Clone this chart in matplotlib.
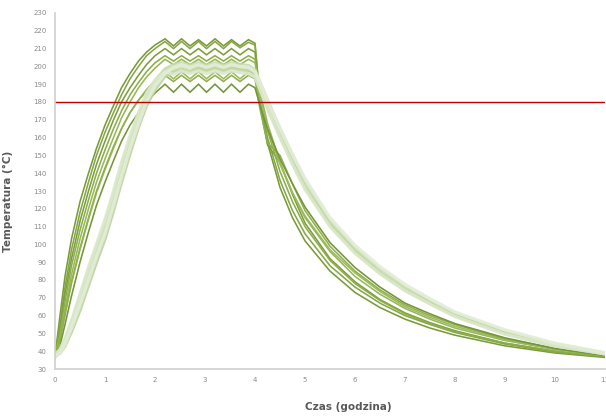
import matplotlib
matplotlib.use("Agg")
import matplotlib.pyplot as plt

# shared time grid (hours)
hours = [0, 0.1, 0.2, 0.33, 0.5, 0.67, 0.83, 1.0, 1.17, 1.33, 1.5, 1.67, 1.83, 2.0, 2.2,
         2.37, 2.53, 2.7, 2.87, 3.03, 3.2, 3.37, 3.53, 3.7, 3.87, 4.0,
         4.1, 4.25, 4.5, 4.75, 5.0, 5.5, 6.0, 6.5, 7.0, 7.5, 8.0, 9.0, 10.0, 11.0]

# zigzag runs (dark / medium green)
run_1 = [37, 60, 82, 103, 124, 140, 154, 167, 178, 188, 196, 203, 208, 212, 215.5,
         211.5, 215.5, 211.5, 215, 211.5, 215.5, 211.5, 215, 211.5, 215, 213,
         180, 157, 132, 115, 102, 85, 73, 64.5, 58, 53, 49, 43, 39, 36.5]
run_2 = [38, 55, 76, 97, 118, 135, 150, 163, 174, 184, 193, 200, 206, 210, 214,
         210, 214, 210, 214, 210, 214, 210, 214, 210.5, 213.5, 212,
         182, 160, 136, 119, 106, 88, 76, 67, 60, 55, 50.5, 44, 39.5, 37]
run_3 = [36, 52, 72, 92, 113, 130, 145, 158, 170, 180, 188, 195, 201, 206, 210,
         206.5, 210, 206.5, 210, 206.5, 210, 206.5, 210, 206.5, 210, 208,
         178, 156, 146, 128, 112, 92, 79, 69, 61.5, 56, 51.5, 44.5, 40, 37]
run_4 = [37, 50, 68, 88, 108, 125, 140, 153, 165, 175, 184, 191, 197, 202, 206,
         203, 206, 203, 206, 203, 206, 203, 206, 203, 206, 204,
         184, 164, 141, 124, 110, 91, 78, 68.5, 61, 55.5, 51, 44.5, 40, 37]
run_5 = [38, 48, 64, 83, 103, 120, 135, 148, 160, 171, 180, 188, 194, 199, 204,
         201, 204, 201, 204, 201, 204, 201, 204, 201, 204, 202,
         186, 168, 146, 129, 115, 96, 82, 72, 64, 58, 53, 46, 41, 37.5]
run_6 = [37, 46, 60, 78, 97, 114, 129, 142, 154, 165, 174, 181, 187, 192, 197,
         193, 197, 193, 197, 193, 197, 193, 197, 193, 197, 195,
         182, 165, 145, 129, 116, 97, 84, 73.5, 65, 59, 54, 46.5, 41, 37.5]
run_7 = [38, 47, 61, 79, 98, 115, 130, 143, 155, 165, 174, 181, 186, 191, 195,
         191.5, 195, 191.5, 195, 191.5, 195, 191.5, 195, 191.5, 195, 193,
         176, 157, 150, 134, 119, 99, 85, 74.5, 66, 60, 55, 47, 41.5, 37.5]
run_8 = [36, 43, 55, 71, 90, 107, 122, 135, 147, 158, 167, 174, 180, 185, 190,
         185.5, 190, 185.5, 190, 185.5, 190, 185.5, 190, 185.5, 190, 188,
         178, 165, 148, 134, 121, 101, 87, 76, 67, 61, 55.5, 47.5, 41.5, 37.5]

# smooth runs (light green)
light_1 = [37, 40, 46, 56, 70, 85, 98, 111, 127, 143, 158, 172, 184, 192, 198.5,
           201, 202, 200.5, 202, 200.5, 202, 200.5, 202, 201, 200.5, 198,
           191, 181, 165, 150, 136, 113, 98, 86, 76, 68, 61, 51, 44, 39]
light_2 = [38, 40, 45, 54, 67, 81, 94, 107, 123, 139, 155, 169, 181, 190, 196.5,
           199, 200.5, 199, 200.5, 199, 200.5, 199, 200.5, 199.5, 199, 196.5,
           190, 179, 163, 148, 134, 112, 97, 85, 75, 67.5, 60.5, 50.5, 43.5, 38.5]
light_3 = [37, 39, 43, 51, 63, 77, 90, 103, 119, 135, 151, 166, 178, 187, 194.5,
           197, 198.5, 197, 199, 197.5, 199, 197.5, 199, 198, 197.5, 195,
           188, 177, 161, 146, 132, 111, 96, 84, 74.5, 67, 60, 50, 43, 38.5]
light_4 = [38, 41, 47, 57, 72, 87, 100, 114, 130, 146, 161, 174, 185, 192, 197,
           195.5, 197.5, 196, 197.5, 196, 197.5, 196, 197.5, 196.5, 196, 194,
           187, 176, 160, 145, 131, 110, 95, 83.5, 74, 66.5, 59.5, 49.5, 43, 38.5]
light_5 = [37, 39, 44, 53, 66, 80, 93, 106, 122, 138, 154, 168, 180, 189, 196,
           199.5, 201, 199.5, 201, 199.5, 201, 199.5, 201, 200, 199.5, 197,
           191, 180.5, 165, 150.5, 137, 115, 99.5, 87.5, 77.5, 69.5, 62, 52, 44.5, 39]

limit_temp = 180

dark_runs = [run_1, run_2, run_3, run_4, run_5, run_6, run_7, run_8]
dark_colors = ["#7a9a3c", "#86a843", "#7d9d3e", "#8cae4a", "#97b857", "#9cbc5c", "#8fb04d", "#74953a"]
light_runs = [light_1, light_2, light_3, light_4, light_5]
light_colors = ["#c7dbab", "#d3e3bd", "#bdd49c", "#dbe8cb", "#e3edd8"]

fig = plt.figure(figsize=(6.06, 4.16), dpi=100)
ax = fig.add_axes([55 / 606, 47 / 416, 550 / 606, 356 / 416])

for vals, c in zip(dark_runs, dark_colors):
    ax.plot(hours, vals, color=c, lw=1.15, solid_joinstyle="miter")
for vals, c in zip(light_runs, light_colors):
    ax.plot(hours, vals, color=c, lw=2.4, alpha=0.9)

ax.axhline(limit_temp, color="#c00000", lw=1.0)

ax.set_xlim(0, 11)
ax.set_ylim(30, 230)
ax.set_xticks(range(0, 12))
ax.set_yticks(range(30, 231, 10))
ax.tick_params(length=0, labelsize=5, colors="#8a8a8a", pad=6)

for s in ["top", "right"]:
    ax.spines[s].set_visible(False)
for s in ["left", "bottom"]:
    ax.spines[s].set_color("#cfcfcf")
    ax.spines[s].set_linewidth(1.2)

ax.set_xlabel("Czas (godzina)", fontsize=7.5, color="#595959", fontweight="bold")
ax.set_ylabel("Temperatura (°C)", fontsize=7.5, color="#595959", fontweight="bold")
ax.xaxis.set_label_coords(0.533, -0.093)
ax.yaxis.set_label_coords(-0.076, 0.472)

fig.savefig("out.png", dpi=100)
